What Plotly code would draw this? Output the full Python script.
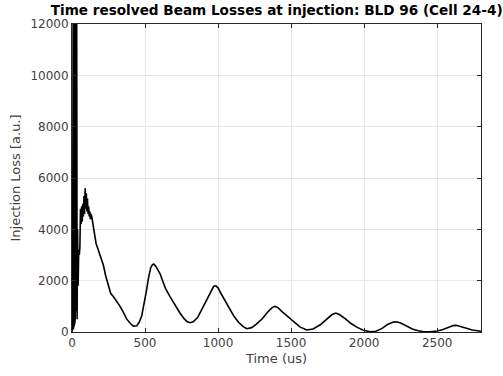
import plotly.graph_objects as go

time_us = [0, 4, 8, 10, 12, 14, 16, 18, 20, 22, 24, 26, 28, 30, 32, 35, 38, 42, 46, 50, 54, 58,
           62, 66, 70, 74, 78, 82, 86, 90, 94, 98, 102, 106, 110, 114, 118, 122, 126, 130, 135,
           140, 146, 155, 165, 180, 195, 215, 230, 250, 265, 283, 300, 329, 350, 375, 400, 420,
           443, 460, 477, 495, 511, 525, 539, 550, 560, 575, 590, 603, 620, 640, 671, 700,
           740, 770, 790, 808, 830, 860, 890, 920, 950, 970, 985, 1000, 1020, 1050, 1080,
           1110, 1140, 1170, 1196, 1230, 1260, 1300, 1340, 1370, 1390, 1410, 1440, 1480,
           1520, 1560, 1607, 1650, 1700, 1740, 1780, 1806, 1830, 1870, 1910, 1950, 1990,
           2041, 2080, 2120, 2160, 2200, 2220, 2250, 2290, 2330, 2370, 2410, 2452, 2500,
           2540, 2580, 2610, 2630, 2660, 2700, 2740, 2780, 2800]
loss_au = [0, 300, 13000, 100, 14000, 200, 14000, 300, 14000, 500, 14000, 800, 13500, 1000,
           13000, 500, 4000, 1800, 3200, 3000, 3300, 4800, 4200, 4900, 4300, 5000, 4500, 5300,
           4600, 5600, 4800, 5400, 4700, 5200, 4600, 4900, 4500, 4700, 4400, 4600, 4500, 4300,
           4080, 3800, 3450, 3190, 2900, 2600, 2200, 1770, 1500, 1380, 1250, 1000, 780, 500,
           330, 230, 240, 380, 620, 1100, 1650, 2150, 2500, 2620, 2650, 2550, 2400, 2270, 2000,
           1700, 1380, 1100, 730, 500, 400, 360, 400, 560, 900, 1250, 1600, 1780, 1800, 1720,
           1500, 1200, 900, 600, 380, 220, 130, 170, 300, 500, 780, 950, 1000, 950, 780, 580,
           380, 200, 80, 120, 280, 480, 680, 740, 680, 520, 330, 190, 80, 10, 30, 130, 290, 390,
           400, 350, 220, 120, 50, 10, 5, 40, 100, 200, 250, 260, 220, 150, 80, 40, 30]

x_ticks = [0, 500, 1000, 1500, 2000, 2500]
y_ticks = [0, 2000, 4000, 6000, 8000, 10000, 12000]

fig = go.Figure()
fig.add_trace(go.Scatter(x=time_us, y=loss_au, mode="lines",
                         line=dict(color="black", width=1.6), showlegend=False))

axis_common = dict(showline=True, linecolor="#262626", linewidth=1, mirror="ticks",
                   ticks="inside", ticklen=4, tickcolor="#262626",
                   showgrid=True, gridcolor="#e6e6e6", gridwidth=1, zeroline=False,
                   tickfont=dict(family="DejaVu Sans", size=12, color="#404040"))

fig.update_layout(
    width=503, height=376,
    margin=dict(l=72, r=22, t=24, b=40),
    paper_bgcolor="white", plot_bgcolor="white",
    title=dict(text="<b>Time resolved Beam Losses at injection: BLD 96 (Cell 24-4)</b>",
               x=0.55, xanchor="center", y=1 - 10 / 376, yanchor="middle",
               font=dict(family="DejaVu Sans", size=13.6, color="black")),
    xaxis=dict(range=[0, 2800], tickvals=x_ticks, tickformat="d",
               title=dict(text="Time (us)", standoff=4,
                          font=dict(family="DejaVu Sans", size=13, color="#404040")),
               **axis_common),
    yaxis=dict(range=[0, 12000], tickvals=y_ticks, tickformat="d",
               title=dict(text="Injection Loss [a.u.]", standoff=6,
                          font=dict(family="DejaVu Sans", size=13, color="#404040")),
               **axis_common),
)

fig.write_html("out.html")
